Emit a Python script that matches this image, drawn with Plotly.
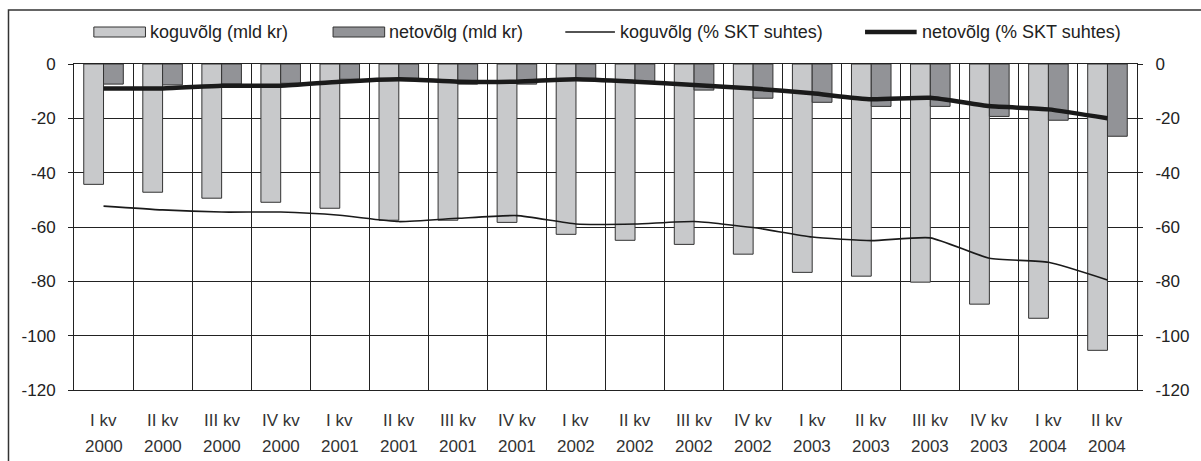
import plotly.graph_objects as go

# quarters shown on the x axis
categories = ["I kv 2000", "II kv 2000", "III kv 2000", "IV kv 2000",
              "I kv 2001", "II kv 2001", "III kv 2001", "IV kv 2001",
              "I kv 2002", "II kv 2002", "III kv 2002", "IV kv 2002",
              "I kv 2003", "II kv 2003", "III kv 2003", "IV kv 2003",
              "I kv 2004", "II kv 2004"]
quarter_labels = ["I kv", "II kv", "III kv", "IV kv", "I kv", "II kv", "III kv", "IV kv",
                  "I kv", "II kv", "III kv", "IV kv", "I kv", "II kv", "III kv", "IV kv",
                  "I kv", "II kv"]
year_labels = ["2000", "2000", "2000", "2000", "2001", "2001", "2001", "2001",
               "2002", "2002", "2002", "2002", "2003", "2003", "2003", "2003",
               "2004", "2004"]

# values
kogu_mld = [-44.3, -47.2, -49.4, -50.9, -53.1, -57.5, -57.5, -58.3, -62.7,
            -64.9, -66.4, -70.0, -76.7, -78.1, -80.3, -88.4, -93.6, -105.4]
neto_mld = [-7.4, -7.7, -7.4, -7.1, -5.6, -5.3, -7.4, -7.4, -5.6,
            -6.5, -9.6, -12.6, -14.1, -15.6, -15.6, -19.3, -20.7, -26.6]
kogu_pct = [-52.3, -53.7, -54.5, -54.5, -55.7, -58.0, -56.8, -55.8, -58.9,
            -58.9, -58.0, -60.2, -63.7, -65.0, -64.0, -71.5, -73.0, -79.5]
neto_pct = [-9.0, -9.0, -8.0, -8.0, -6.5, -5.6, -6.5, -6.5, -5.6,
            -6.5, -7.7, -9.0, -10.8, -13.0, -12.4, -15.5, -16.7, -20.0]

y_ticks = [0, -20, -40, -60, -80, -100, -120]
y_ticktext = ["0", "-20", "-40", "-60", "-80", "-100", "-120"]

legend_names = ["koguvõlg (mld kr)", "netovõlg (mld kr)",
                "koguvõlg (% SKT suhtes)", "netovõlg (% SKT suhtes)"]

FONT = "Liberation Sans, Arial, sans-serif"
INK = "#222222"
LIGHT = "#c8c9cb"
DARK = "#929397"

W, H = 1201, 461
L, R, T, B = 74, 56, 64, 71
pw, ph = W - L - R, H - T - B

px = lambda x: (x - L) / pw          # pixel -> paper x
py = lambda y: (H - B - y) / ph      # pixel -> paper y

fig = go.Figure()
fig.add_trace(go.Bar(x=categories, y=kogu_mld, name=legend_names[0],
                     marker=dict(color=LIGHT, line=dict(color="#333333", width=1))))
fig.add_trace(go.Bar(x=categories, y=neto_mld, name=legend_names[1],
                     marker=dict(color=DARK, line=dict(color="#333333", width=1))))
fig.add_trace(go.Scatter(x=categories, y=kogu_pct, name=legend_names[2], yaxis="y2",
                         mode="lines", line=dict(color="#1a1a1a", width=1.6, shape="spline", smoothing=0.5)))
fig.add_trace(go.Scatter(x=categories, y=neto_pct, name=legend_names[3], yaxis="y2",
                         mode="lines", line=dict(color="#1a1a1a", width=4.5, shape="spline", smoothing=0.5)))

shapes = []
annotations = []

# outer chart frame (only left/top edges are inside the picture)
shapes.append(dict(type="rect", xref="paper", yref="paper",
                   x0=px(8), x1=px(W + 20), y0=py(H + 20), y1=py(10),
                   line=dict(color="#333333", width=1.5), fillcolor="rgba(0,0,0,0)", layer="below"))

# hand-made legend, Excel style
sw_y0, sw_y1 = py(37), py(27)
for x0, x1, col in [(94, 146, LIGHT), (335, 387, DARK)]:
    shapes.append(dict(type="rect", xref="paper", yref="paper", x0=px(x0), x1=px(x1),
                       y0=sw_y0, y1=sw_y1, fillcolor=col, line=dict(color="#333333", width=1)))
for x0, x1, wd in [(569, 619, 1.6), (871, 923, 4.5)]:
    shapes.append(dict(type="line", xref="paper", yref="paper", x0=px(x0), x1=px(x1),
                       y0=py(32), y1=py(32), line=dict(color="#1a1a1a", width=wd)))
for xt, name in zip([149, 389, 622, 926], legend_names):
    annotations.append(dict(xref="paper", yref="paper", x=px(xt), y=py(32), text=name,
                            showarrow=False, xanchor="left", yanchor="middle",
                            font=dict(family=FONT, size=18, color=INK)))

# two-row category labels
for c, q, yr in zip(categories, quarter_labels, year_labels):
    annotations.append(dict(xref="x", yref="paper", x=c, y=0, text=q, showarrow=False,
                            yanchor="middle", yshift=-30, font=dict(family=FONT, size=17, color="#333333")))
    annotations.append(dict(xref="x", yref="paper", x=c, y=0, text=yr, showarrow=False,
                            yanchor="middle", yshift=-56, font=dict(family=FONT, size=17, color="#333333")))

fig.update_layout(
    width=W, height=H, autosize=False,
    margin=dict(l=L, r=R, t=T, b=B, pad=0),
    paper_bgcolor="white", plot_bgcolor="white",
    barmode="group", bargap=0.33, bargroupgap=0,
    showlegend=False,
    font=dict(family=FONT, size=17, color=INK),
    shapes=shapes, annotations=annotations,
    xaxis=dict(type="category", tickson="boundaries", showgrid=True, gridcolor="#222222", gridwidth=1,
               showline=True, linecolor="#222222", linewidth=1, mirror=True,
               showticklabels=False, ticks=""),
    yaxis=dict(range=[-120, 0], tickvals=y_ticks, ticktext=y_ticktext,
               showgrid=True, gridcolor="#222222", gridwidth=1, zeroline=False,
               showline=True, linecolor="#222222", linewidth=1,
               ticks="outside", ticklen=5, tickcolor="#222222", ticklabelstandoff=9,
               tickfont=dict(family=FONT, size=17, color=INK)),
    yaxis2=dict(range=[-120, 0], tickvals=y_ticks, ticktext=y_ticktext, overlaying="y", side="right",
                showgrid=False, zeroline=False, showline=True, linecolor="#222222", linewidth=1,
                ticks="outside", ticklen=5, tickcolor="#222222", ticklabelstandoff=9,
                tickfont=dict(family=FONT, size=17, color=INK)),
)

fig.write_html("out.html", config={"displayModeBar": False},
               post_script="document.body.style.margin='0';")
